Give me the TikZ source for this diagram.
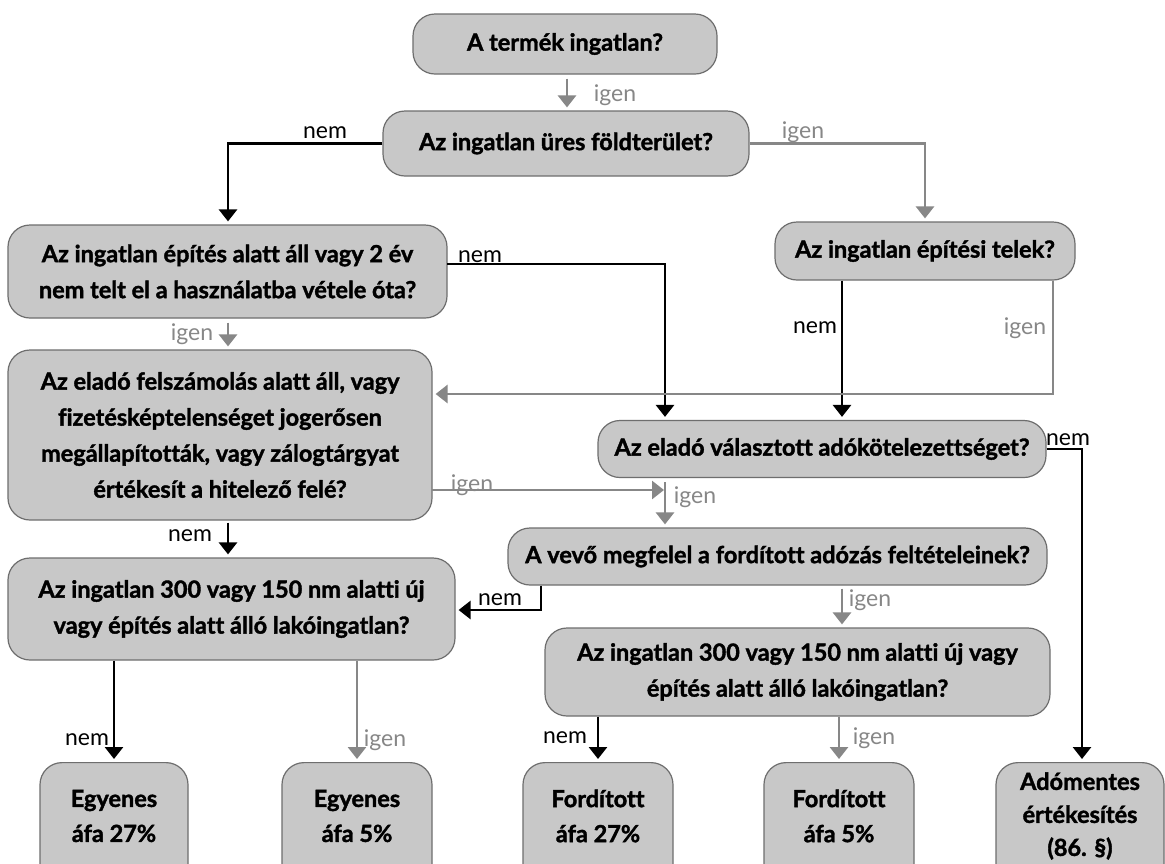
\documentclass[tikz,border=0pt]{standalone}
\usepackage{fontspec}
\setmainfont{Lato}[Ligatures={NoCommon}, BoldFeatures={FakeBold=1.6}]
\usetikzlibrary{arrows.meta,calc}
\definecolor{boxfill}{HTML}{C8C8C8}
\definecolor{boxline}{HTML}{6E6E6E}
\definecolor{garr}{HTML}{878787}
\begin{document}
\begin{tikzpicture}[x=1pt,y=-1pt,
  box/.style={draw=boxline, line width=1.2pt, fill=boxfill, rounded corners=22pt, align=center,
    font=\bfseries\fontsize{23.5}{36}\selectfont, inner sep=0pt},
  btext/.style={align=center, font=\bfseries\fontsize{23.5}{35}\selectfont, inner sep=0pt},
  lbl/.style={font=\fontsize{23}{26}\selectfont, inner sep=0pt},
  glbl/.style={lbl, text=garr},
  barrow/.style={draw=black, line width=2.8pt, -{Triangle[width=18pt,length=12pt]}, shorten >=3pt},
  garrow/.style={draw=garr, line width=2.8pt, -{Triangle[width=18pt,length=12pt]}, shorten >=3pt}]
\useasboundingbox (0,0) rectangle (1165,863);
\clip (0,0) rectangle (1165,863);
\fill[white] (0,0) rectangle (1165,863);

% boxes
\node[box, minimum width=304pt, minimum height=60pt] (A) at (565,44) {A termék ingatlan?};
\node[box, minimum width=366pt, minimum height=65pt] (B) at (566,143.5) {Az ingatlan üres földterület?};
\node[box, minimum width=439pt, minimum height=93pt] (C) at (227.5,271.5) {Az ingatlan építés alatt áll vagy 2 év\\nem telt el a használatba vétele óta?};
\node[box, minimum width=300pt, minimum height=58pt] (D) at (925,251) {Az ingatlan építési telek?};
\node[box, minimum width=424pt, minimum height=170pt] (E) at (220,435) {Az eladó felszámolás alatt áll, vagy\\fizetésképtelenséget jogerősen\\megállapították, vagy zálogtárgyat\\értékesít a hitelező felé?};
\node[box, minimum width=448pt, minimum height=57pt] (F) at (822,449) {Az eladó választott adókötelezettséget?};
\node[box, minimum width=539pt, minimum height=57pt] (G) at (777.5,556.5) {A vevő megfelel a fordított adózás feltételeinek?};
\node[box, minimum width=447pt, minimum height=102pt] (H) at (231.5,609) {Az ingatlan 300 vagy 150 nm alatti új\\vagy építés alatt álló lakóingatlan?};
\node[box, minimum width=505pt, minimum height=88pt] (I) at (797.5,672) {Az ingatlan 300 vagy 150 nm alatti új vagy\\építés alatt álló lakóingatlan?};

\node[box, minimum width=148pt, minimum height=140pt, anchor=north] (E27) at (114,762) {};
\node[btext] (E27t) at (114,816) {Egyenes\\áfa 27\%};
\node[box, minimum width=150pt, minimum height=140pt, anchor=north] (E5) at (357,762) {};
\node[btext] (E5t) at (357,816) {Egyenes\\áfa 5\%};
\node[box, minimum width=150pt, minimum height=140pt, anchor=north] (F27) at (598,762) {};
\node[btext] (F27t) at (598,816) {Fordított\\áfa 27\%};
\node[box, minimum width=150pt, minimum height=140pt, anchor=north] (F5) at (839,762) {};
\node[btext] (F5t) at (839,816) {Fordított\\áfa 5\%};
\node[box, minimum width=168pt, minimum height=140pt, anchor=north] (Ado) at (1080,762) {};
\node[btext, font=\bfseries\fontsize{23.5}{33}\selectfont] (Adot) at (1080,816) {Adómentes\\értékesítés\\(86. §)};

% helper coordinates
\coordinate (lx) at (228,0);
\coordinate (fx) at (665,0);
\coordinate (dx) at (842,0);
\coordinate (ax) at (1082,0);
\coordinate (c1) at (447,264);
\coordinate (dy) at (1053,394);
\coordinate (e1) at (432,490);
\coordinate (g1) at (541,610);

% connectors
\draw[garrow, shorten <=4pt] (A.south -| 567,0) -- (B.north -| 567,0);
\draw[barrow] (B.west) -- (B.west -| lx) -- (C.north -| lx);
\draw[garrow] (B.east) -- (B.east -| D.north) -- (D.north);
\draw[barrow] (c1) -- (c1 -| fx) -- (F.north -| fx);
\draw[garrow, shorten <=4pt] (C.south -| lx) -- (E.north -| lx);
\draw[barrow] (D.south -| dx) -- (F.north -| dx);
\draw[garrow] (D.south -| dy) -- (dy) -- (dy -| E.east);
\draw[barrow] (F.east) -- (F.east -| ax) -- (Ado.north -| ax);
\draw[garrow, shorten <=4pt] (F.south -| fx) -- (G.north -| fx);
\draw[garrow, shorten >=1pt] (e1) -- (e1 -| fx);
\draw[barrow, shorten <=2pt] (E.south -| lx) -- (H.north -| lx);
\draw[barrow] (G.south -| g1) -- (g1) -- (g1 -| H.east);
\draw[garrow, shorten <=3pt] (G.south -| dx) -- (I.north -| dx);
\draw[barrow] (H.south -| E27.north) -- (E27.north);
\draw[garrow] (H.south -| E5.north) -- (E5.north);
\draw[barrow] (I.south -| F27.north) -- (F27.north);
\draw[garrow] (I.south -| F5.north) -- (F5.north);

% labels
\node[glbl] (l1) at (615,95) {igen};
\node[lbl] (l2) at (325,133) {nem};
\node[glbl] (l3) at (803,132) {igen};
\node[lbl] (l4) at (480,257) {nem};
\node[glbl] (l5) at (192,334) {igen};
\node[lbl] (l6) at (815,328) {nem};
\node[glbl] (l7) at (1025,328) {igen};
\node[lbl] (l8) at (1068,440) {nem};
\node[glbl] (l9) at (472,485) {igen};
\node[glbl] (l10) at (695,497) {igen};
\node[lbl] (l11) at (190,536) {nem};
\node[lbl] (l12) at (500,600) {nem};
\node[glbl] (l13) at (870,600) {igen};
\node[lbl] (l14) at (87,740) {nem};
\node[glbl] (l15) at (385,740) {igen};
\node[lbl] (l16) at (565,738) {nem};
\node[glbl] (l17) at (874,738) {igen};
\end{tikzpicture}
\end{document}
